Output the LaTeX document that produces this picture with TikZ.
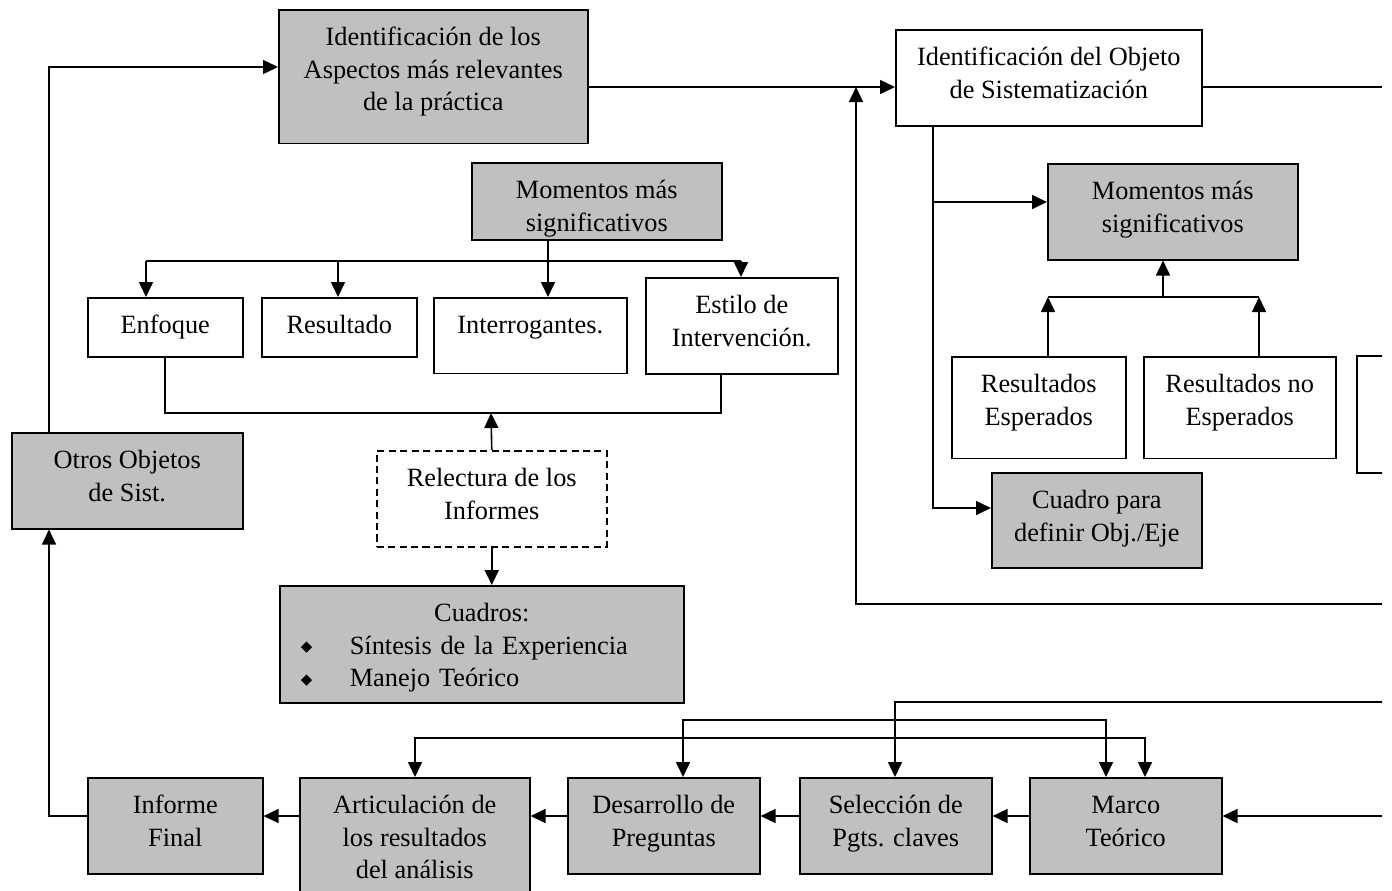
\documentclass[tikz,border=0pt]{standalone}
\usepackage{fontspec}
\setmainfont{Liberation Serif}
\newfontfamily\symfont{DejaVu Sans}
\usetikzlibrary{arrows.meta}
\definecolor{boxgray}{RGB}{192,192,192}
\newcommand{\bul}{\raisebox{1.5pt}{\symfont\fontsize{8.5}{8.5}\selectfont ◆}}

\begin{document}
\begin{tikzpicture}[x=0.02cm, y=-0.02cm, line width=0.9pt, >={Triangle[length=0.3cm, width=0.28cm]}, font=\fontsize{15}{18.5}\selectfont]
	\tikzstyle{box}=[draw, anchor=north west, inner sep=0pt, align=center, text height=39pt, text depth=15.6pt];
	\tikzstyle{gbox}=[box, fill=boxgray];
	\tikzstyle{one}=[text height=20.5pt];
	\tikzstyle{three}=[text height=57.5pt];

   \useasboundingbox (0,0) rectangle (1392,890);
   \clip (0,0) rectangle (1382,890);

   \node[gbox, three] (ident) at (278, 9) [minimum width=6.18cm, text depth=18.7pt] {Identificación de los\\Aspectos más relevantes\\de la práctica};
   \node[box] (objeto) at (895, 29) [minimum width=6.12cm] {Identificación del Objeto\\de Sistematización};
   \node[gbox] (momA) at (471, 162) [minimum width=5cm, text depth=4.8pt] {Momentos más\\significativos};
   \node[box, one] (enfoque) at (87, 297) [minimum width=3.1cm, text depth=13.1pt] {Enfoque};
   \node[box, one] (resultado) at (261, 297) [minimum width=3.1cm, text depth=13.1pt] {Resultado};
   \node[box, one] (interr) at (433, 297) [minimum width=3.86cm, text depth=22.7pt] {Interrogantes.};
   \node[box] (estilo) at (645, 277) [minimum width=3.84cm] {Estilo de\\Intervención.};
   \node[box, dash pattern=on 4pt off 2.5pt] (relect) at (376, 450) [minimum width=4.6cm] {Relectura de los\\Informes};
   \node[gbox, one, text width=8.08cm, align=left] (cuadros) at (279, 585) [text depth=46.1pt] {\makebox[8.08cm]{Cuadros:}\\\hspace*{0.42cm}\makebox[0.98cm][l]{\bul}Síntesis de la Experiencia\\\hspace*{0.42cm}\makebox[0.98cm][l]{\bul}Manejo Teórico};
   \node[gbox] (otros) at (11, 432) [minimum width=4.62cm] {Otros Objetos\\de Sist.};
   \node[gbox] (momB) at (1047, 163) [minimum width=5cm] {Momentos más\\significativos};
   \node[box] (resEsp) at (951, 356) [minimum width=3.48cm, text depth=19pt] {Resultados\\Esperados};
   \node[box] (resNo) at (1143, 356) [minimum width=3.84cm, text depth=19pt] {Resultados no\\Esperados};
   \node[box, one] (resOtro) at (1356, 355) [minimum width=1.5cm, text depth=46.1pt] {};
   \node[gbox] (cuadro) at (991, 472) [minimum width=4.2cm, text depth=15.1pt] {Cuadro para\\definir Obj./Eje};
   \node[gbox] (informe) at (87, 777) [minimum width=3.5cm] {Informe\\Final};
   \node[gbox, three] (artic) at (299, 777) [minimum width=4.6cm, text depth=16.5pt] {Articulación de\\los resultados\\del análisis};
   \node[gbox] (desarr) at (567, 777) [minimum width=3.84cm] {Desarrollo de\\Preguntas};
   \node[gbox] (selecc) at (799, 777) [minimum width=3.84cm] {Selección de\\Pgts. claves};
   \node[gbox] (marco) at (1029, 777) [minimum width=3.84cm] {Marco\\Teórico};

   \coordinate (c1) at (49, 67);
   \coordinate (c2) at (49, 816);
   \coordinate (j1) at (856, 87);
   \coordinate (e1) at (1382, 604);
   \coordinate (e2) at (1382, 87);
   \coordinate (e3) at (1382, 702);
   \coordinate (e4) at (1382, 816);
   \coordinate (t1) at (933, 202);
   \coordinate (t2) at (933, 508);
   \coordinate (b1) at (146, 261);
   \coordinate (b2) at (741, 261);
   \coordinate (m1) at (548, 261);
   \coordinate (r1) at (338, 261);
   \coordinate (u1) at (165, 413);
   \coordinate (u2) at (721, 413);
   \coordinate (u3) at (491, 413);
   \coordinate (v1) at (1048, 297);
   \coordinate (v2) at (1259, 297);
   \coordinate (v3) at (1163, 297);
   \coordinate (w1) at (895, 702);
   \coordinate (w2) at (683, 720);
   \coordinate (w3) at (1106, 720);
   \coordinate (w4) at (415, 738);
   \coordinate (w5) at (1145, 738);

   \draw[->] (otros.north -| c1) -- (c1) -- (ident.west |- c1);
   \draw[->] (informe.west |- c2) -- (c2) -- (otros.south -| c2);
   \draw[->] (ident.east |- j1) -- (objeto.west |- j1);
   \draw[->] (e1) -| (j1);
   \draw (objeto.east |- e2) -- (e2);
   \draw[->] (objeto.south -| t2) -- (t2) -- (cuadro.west |- t2);
   \draw[->] (t1) -- (momB.west |- t1);

   \draw (b1) -- (b2);
   \draw[->] (momA.south -| m1) -- (interr.north -| m1);
   \draw[->] (b1) -- (enfoque.north -| b1);
   \draw[->] (r1) -- (resultado.north -| r1);
   \draw[->] (b2) -- (estilo.north -| b2);
   \draw (enfoque.south -| u1) -- (u1) -- (u2) -- (estilo.south -| u2);
   \draw[->] (relect.north) -- (u3);
   \draw[->] (relect.south) -- (relect.south |- cuadros.north);

   \draw (v1) -- (v2);
   \draw[->] (resEsp.north -| v1) -- (v1);
   \draw[->] (resNo.north -| v2) -- (v2);
   \draw[->] (v3) -- (momB.south -| v3);

   \draw[->] (e4) -- (marco.east |- e4);
   \foreach \a/\b in {marco/selecc, selecc/desarr, desarr/artic, artic/informe}
      \draw[->] (\a.west |- e4) -- (\b.east |- e4);
   \draw[->] (e3) -- (w1) -- (selecc.north -| w1);
   \draw[<->] (desarr.north -| w2) -- (w2) -- (w3) -- (marco.north -| w3);
   \draw[<->] (artic.north -| w4) -- (w4) -- (w5) -- (marco.north -| w5);

\end{tikzpicture}
\end{document}
